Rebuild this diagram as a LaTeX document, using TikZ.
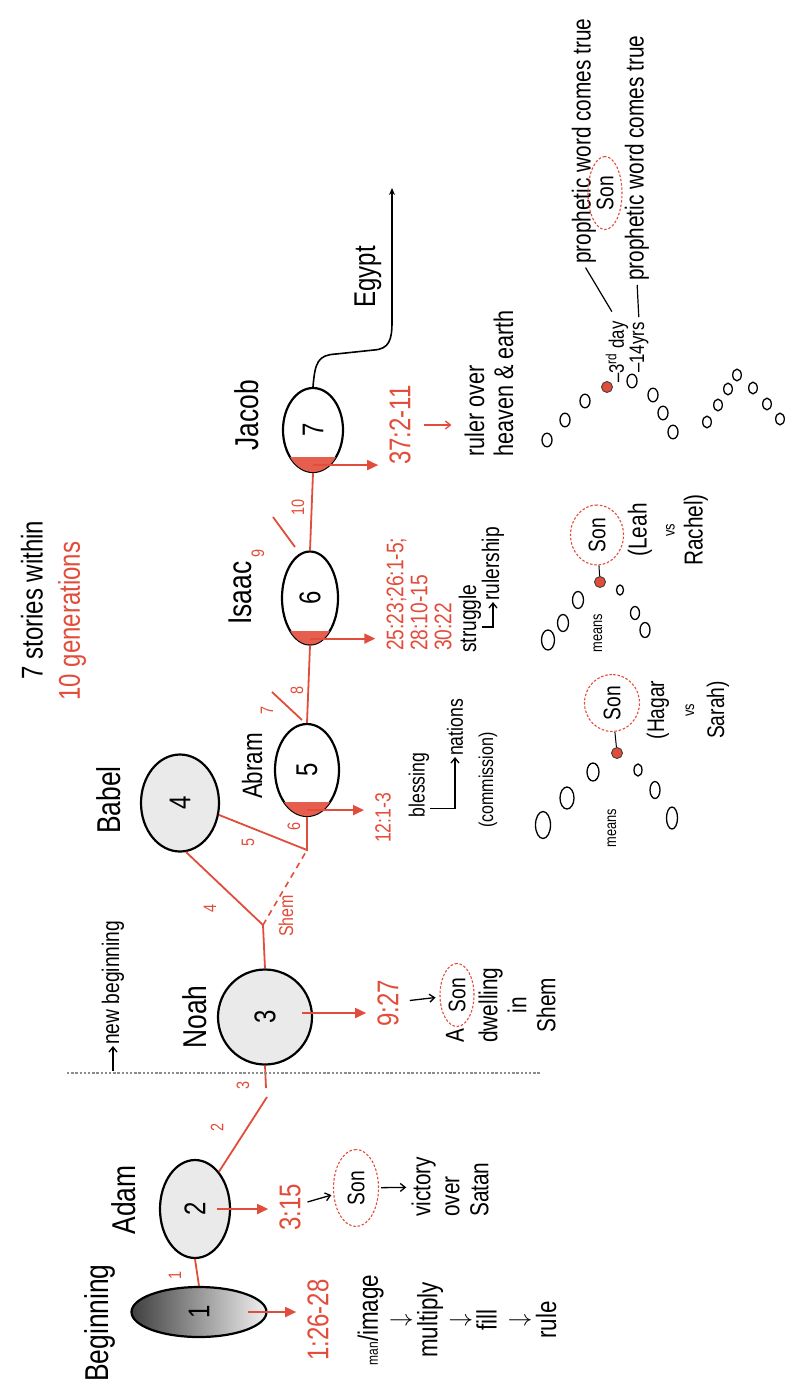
\documentclass[tikz,border=0pt]{standalone}
\usepackage{fontspec}
\setmainfont{Liberation Sans}[FakeStretch=0.8]
\usetikzlibrary{arrows.meta,calc,shapes.geometric}
\definecolor{myred}{RGB}{226,76,58}
\definecolor{lgray}{RGB}{234,234,234}
\begin{document}
\begin{tikzpicture}[x=1pt,y=-1pt,
  every node/.append style={rotate=90, inner sep=1pt},
  nm/.style={font=\fontsize{33}{36}\selectfont},
  bubble/.style={ellipse, draw, line width=2.2pt, fill=lgray, inner sep=0pt, font=\fontsize{30}{32}\selectfont},
  wbubble/.style={bubble, fill=white},
  redline/.style={draw=myred, line width=1.8pt},
  reddash/.style={draw=myred, line width=1.6pt, dash pattern=on 6pt off 5pt},
  redarrow/.style={draw=myred, line width=1.8pt, -{Triangle[length=11pt,width=10pt]}, shorten >=10pt},
  reftxt/.style={text=myred, font=\fontsize{30}{32}\selectfont},
  glab/.style={text=myred, font=\fontsize{18}{20}\selectfont},
  txt/.style={font=\fontsize{26}{29}\selectfont},
  smalltxt/.style={font=\fontsize{16}{18}\selectfont},
  blkarrow/.style={draw=black, line width=1.3pt, -{Straight Barb[length=5pt,width=8pt]}},
  sonring/.style={ellipse, draw=myred, line width=1.1pt, dash pattern=on 2.5pt off 1.8pt, inner sep=0pt, font=\fontsize{24}{26}\selectfont},
  reddot/.style={circle, fill=myred, draw=black!75, line width=0.9pt, minimum size=11pt, inner sep=0pt},
  ring/.style={draw=black, line width=1.3pt},
  dotline/.style={draw=black!45, line width=2.6pt, dash pattern=on 2.4pt off 1.8pt}
]
\useasboundingbox (0,0) rectangle (789,1387);

% ---------- title
\node[font=\fontsize{30}{32}\selectfont] (t7) at (32,600) {7 stories within};
\node[reftxt] (t10) at (72,621) {10 generations};

% ---------- names
\node[nm] (tbeg) at (100,1323) {Beginning};
\node[nm] (tadam) at (124,1200) {Adam};
\node[nm] (tnoah) at (195,1017) {Noah};
\node[nm] (tbabel) at (109,800) {Babel};
\node[nm, font=\fontsize{28}{30}\selectfont] (tabram) at (252,766) {Abram};
\node[nm] (tisaac) at (240,593) {Isaac};
\node[nm] (tjacob) at (247,415) {Jacob};

% ---------- bubbles
\node[ellipse, draw, line width=2.2pt, inner sep=0pt, left color=black!75, right color=black!6,
      minimum width=50pt, minimum height=135pt, font=\fontsize{30}{32}\selectfont] (beg) at (199,1312) {1};
\node[bubble, minimum width=98pt, minimum height=70pt] (adam) at (195,1209) {2};
\node[bubble, minimum width=95pt, minimum height=94pt] (noah) at (265,1017) {3};
\node[bubble, minimum width=97pt, minimum height=78pt] (babel) at (180,803) {4};
\node[wbubble, minimum width=92pt, minimum height=64pt] (abram) at (307,770) {5};
\node[wbubble, minimum width=93pt, minimum height=56pt] (isaac) at (310,598) {6};
\node[wbubble, minimum width=84pt, minimum height=60pt] (jacob) at (313,430) {7};

% red patches
\begin{scope}\clip (abram.center) ellipse [x radius=32, y radius=46];
  \fill[myred!90] (270,802) rectangle (345,817);\end{scope}
\begin{scope}\clip (isaac.center) ellipse [x radius=28, y radius=46.5];
  \fill[myred!90] (270,631) rectangle (345,646);\end{scope}
\begin{scope}\clip (jacob.center) ellipse [x radius=30, y radius=42];
  \fill[myred!90] (270,457) rectangle (345,473);\end{scope}

% ---------- red generation line
\coordinate (k2) at (267,1097);
\coordinate (k3) at (266,1088);
\coordinate (kb) at (263,925);
\coordinate (kj) at (307,850);
\draw[redline] (beg.east) -- (adam.west);
\draw[redline] (adam) -- (k2);
\draw[redline] (k3) -- (noah.west);
\draw[redline] (noah.east) -- (kb) -- (babel.187);
\draw[redline] (babel.253) -- (kj) -- (abram.west);
\draw[reddash] (kb) -- (kj);
\draw[redline] (abram.east) -- (isaac.west);
\draw[redline] (isaac.east) -- (jacob.west);
\coordinate (s7a) at (302,720); \coordinate (s7b) at (272,692);
\coordinate (s9a) at (295,547); \coordinate (s9b) at (273,517);
\draw[redline] (s7a) -- (s7b);
\draw[redline] (s9a) -- (s9b);
\node[reftxt, font=\fontsize{20}{22}\selectfont] (shem) at (286,916) {Shem};

\node[glab] (g1) at (175,1275) {1};
\node[glab] (g2) at (217,1127) {2};
\node[glab] (g3) at (243,1085) {3};
\node[glab] (g4) at (210,908) {4};
\node[glab] (g5) at (248,842) {5};
\node[glab] (g6) at (294,826) {6};
\node[glab] (g7) at (267,710) {7};
\node[glab] (g8) at (297,690) {8};
\node[glab] (g9) at (258,553) {9};
\node[glab] (g10) at (298,507) {10};

% ---------- references
\node[reftxt] (r126) at (318,1320) {1:26-28};
\node[reftxt] (r315) at (290,1207) {3:15};
\node[reftxt] (r927) at (388,1003) {9:27};
\node[reftxt, font=\fontsize{22}{24}\selectfont] (r121) at (383,818) {12:1-3};
\node[reftxt, font=\fontsize{24}{24}\selectfont, align=left, anchor=west] (risaac) at (419,652) {25:23;26:1-5;\\28:10-15\\30:22};
\node[reftxt] (r37) at (400,425) {37:2-11};

\coordinate (a1) at ([xshift=49pt]beg.center);
\coordinate (a2) at ([xshift=22pt]adam.center);
\coordinate (a3) at ([xshift=37pt,yshift=4pt]noah.center);
\coordinate (a4) at ([yshift=7pt]abram.west);
\coordinate (a5) at ([yshift=7pt]isaac.west);
\coordinate (a6) at ([yshift=8pt]jacob.west);
\draw[redarrow] (a1) -- (a1 -| r126.north);
\draw[redarrow] (a2) -- (a2 -| r315.north);
\draw[redarrow] (a3) -- (a3 -| r927.north);
\draw[redarrow] (a4) -- (a4 -| r121.north);
\draw[redarrow] (a5) -- (a5 -| risaac.north);
\draw[redarrow] (a6) -- (a6 -| r37.north);

% ---------- Beginning column
\node[font=\fontsize{28}{29.7}\selectfont, align=center] (cbeg) at (457,1320)
  {{\fontsize{15}{16}\selectfont man}/image\\$\downarrow$\\multiply\\$\downarrow$\\fill\\$\downarrow$\\rule};

% ---------- Adam column
\node[sonring, minimum width=77pt, minimum height=45pt] (son2) at (356,1188) {Son};
\node[txt, align=left, anchor=west] (vic) at (450,1218) {victory\\over\\Satan};
\draw[blkarrow, shorten <=6pt, shorten >=2pt] (r315) -- (son2);
\draw[blkarrow, shorten <=2pt, shorten >=4pt] (son2) -- (vic);

% ---------- Noah column
\node[sonring, minimum width=63pt, minimum height=34pt] (son3) at (457,995) {Son};
\node[txt] (a3t) at (455,1036) {A};
\node[txt, align=center] (dwell) at (517,1005) {dwelling\\in\\Shem};
\draw[blkarrow, shorten <=10pt, shorten >=4pt] (r927) -- (son3);

% new beginning + dotted divider
\coordinate (dl1) at (67,1073);
\coordinate (dl2) at (540,1073);
\draw[dotline] (dl1) -- (dl2);
\coordinate (nb0) at (113,1071);
\node[font=\fontsize{24}{26}\selectfont, anchor=west] (nb) at (113,1046) {new beginning};
\draw[blkarrow] (nb0) -- (nb.west);

% ---------- Abram column
\node[font=\fontsize{22}{24}\selectfont] (bless) at (419,785) {blessing};
\node[font=\fontsize{22}{24}\selectfont, anchor=west] (nations) at (455,757) {nations};
\coordinate (bh) at ($(bless.south west)!0.15!(bless.south east)$);
\draw[blkarrow] (bh) -| (nations.west);
\node[font=\fontsize{20}{22}\selectfont] (comm) at (488,780) {(commission)};

% ---------- Isaac column
\node[font=\fontsize{24}{26}\selectfont, anchor=west] (strug) at (470,654) {struggle};
\node[font=\fontsize{24}{26}\selectfont, anchor=west] (rship) at (493,602) {rulership};
\coordinate (sh) at ($(strug.south west)!0.38!(strug.south east)$);
\draw[blkarrow] (sh) -| (rship.west);

% ---------- Jacob column
\node[font=\fontsize{27}{29}\selectfont, align=left, anchor=west] (ruler) at (489,458) {ruler over\\heaven \& earth};
\draw[draw=myred, line width=1.3pt, -{Straight Barb[length=5pt,width=8pt]}, shorten <=12pt, shorten >=12pt]
  (r37.south) -- (r37.south -| ruler.north);

% Egypt
\coordinate (eg1) at (392,188);
\draw[line width=1.6pt, -{Stealth[length=7pt,width=6pt]}] (jacob.east)
  .. controls (315,362) and (318,355) .. (336,354) -- (374,350)
  .. controls (389,349) and (392,340) .. (392,322) -- (eg1);
\node[font=\fontsize{30}{32}\selectfont] (egypt) at (368,277) {Egypt};

% ---------- Abram cluster
\foreach \x/\y/\a/\b in {543/825/7.5/13.5, 567/798/7/11, 593/772/6/9, 638/770/4/6, 655/790/5/8.5, 672/818/5.5/11}
  \draw[ring] (\x,\y) ellipse [x radius=\a, y radius=\b];
\node[reddot] (ad) at (617,753) {};
\node[sonring, minimum width=57pt, minimum height=55pt] (as) at (612,703) {Son};
\draw[line width=1pt] (ad) -- (as);
\node[smalltxt] (am) at (612,828) {means};
\node[font=\fontsize{24}{30}\selectfont, align=center] (hs) at (688,710) {(Hagar\\{\fontsize{16}{18}\selectfont vs}\\Sarah)};

% ---------- Isaac cluster
\foreach \x/\y/\a/\b in {548/640/6.5/10, 563/623/5.5/8.5, 578/600/5.5/8.5, 620/590/3.5/5, 635/613/4.5/6.5, 645/630/5/7.5}
  \draw[ring] (\x,\y) ellipse [x radius=\a, y radius=\b];
\node[reddot] (id) at (600,582) {};
\node[sonring, minimum width=60pt, minimum height=53pt] (is) at (597,535) {Son};
\draw[line width=1pt] (id) -- (is);
\node[smalltxt] (im) at (598,633) {means};
\node[font=\fontsize{26}{28}\selectfont, align=center] (lr) at (668,530) {(Leah\\{\fontsize{16}{18}\selectfont vs}\\Rachel)};

% ---------- Jacob cluster
\foreach \x/\y in {547/440, 565/420, 585/401, 632/381, 653/395, 663/413, 673/432}
  \draw[ring] (\x,\y) ellipse [x radius=5, y radius=6.8];
\foreach \x/\y in {707/422, 718/405, 728/389, 737/375, 753/388, 767/404, 780/419}
  \draw[ring] (\x,\y) ellipse [x radius=4.3, y radius=5.8];
\node[reddot] (jd) at (607,387) {};
\node[font=\fontsize{21}{23}\selectfont, anchor=west] (j3) at (617,384) {–3\textsuperscript{rd} day};
\node[font=\fontsize{26}{28}\selectfont, anchor=west] (jp1) at (584,265) {prophetic word comes true};
\draw[line width=1.2pt, shorten <=10pt, shorten >=3pt] (j3.east) -- (jp1.west);
\node[sonring, minimum width=73pt, minimum height=34pt] (js) at (605,193) {Son};
\node[font=\fontsize{21}{23}\selectfont, anchor=west] (j4) at (639,374) {–14yrs};
\node[font=\fontsize{26}{28}\selectfont, anchor=west] (jp2) at (637,282) {prophetic word comes true};
\draw[line width=1.2pt, shorten <=4pt, shorten >=3pt] (j4.east) -- (jp2.west);

\end{tikzpicture}
\end{document}
